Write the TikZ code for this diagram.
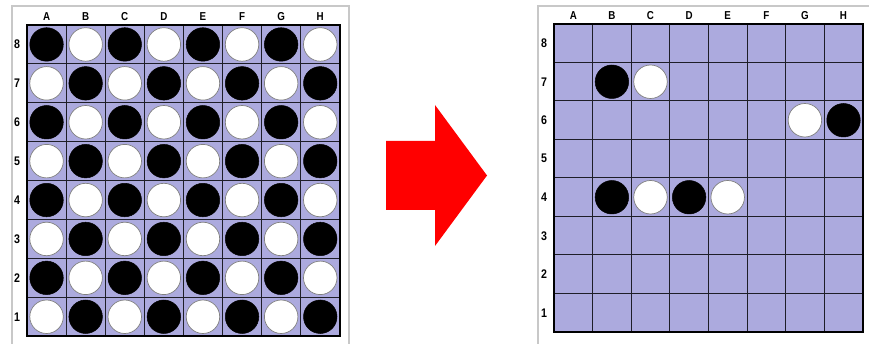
\documentclass[tikz,border=0pt]{standalone}
\usepackage{fontspec}
\setmainfont{Liberation Sans}
\definecolor{boardfill}{RGB}{172,170,222}
\definecolor{framegray}{RGB}{200,200,200}
\definecolor{gridline}{RGB}{30,30,40}
\tikzset{
  frameline/.style={draw=framegray,line width=1.2pt},
  boardbg/.style={fill=boardfill},
  gridlines/.style={draw=gridline,line width=1pt},
  boardedge/.style={draw=black,line width=2pt},
  blackdisc/.style={circle,fill=black,draw=black,line width=0.5pt,minimum size=33.5pt,inner sep=0pt},
  whitedisc/.style={circle,fill=white,draw=gray,line width=0.7pt,minimum size=33.5pt,inner sep=0pt},
  collabel/.style={font=\fontsize{11.5}{13}\selectfont\bfseries,inner sep=0pt,yshift=8.5pt,xscale=0.85},
  rowlabel/.style={font=\fontsize{12.5}{14}\selectfont\bfseries,inner sep=0pt,xshift=-10pt,xscale=0.85},
  bigarrow/.style={fill=red,draw=none}
}
\begin{document}
\begin{tikzpicture}[x=1pt,y=-1pt]
\useasboundingbox (0,0) rectangle (869,344);
% outer frames
\draw[frameline] (12,350) -- (12,6) -- (349,6) -- (349,350);
\draw[frameline] (538,350) -- (538,6) -- (875,6);
% left board
\begin{scope}[shift={(27,25)},x=39.1pt,y=-38.9pt]
  \fill[boardbg] (0,0) rectangle (8,8);
  \foreach \i in {1,...,7} {
    \draw[gridlines] (\i,0) -- (\i,8);
    \draw[gridlines] (0,\i) -- (8,\i);
  }
  \draw[boardedge] (0,0) rectangle (8,8);
  \foreach \c [count=\ci] in {A,B,C,D,E,F,G,H} {
    \node[collabel] (Lcol\c) at (\ci-0.5,0) {\c};
  }
  \foreach \r in {1,...,8} {
    \node[rowlabel] (Lrow\r) at (0,8.5-\r) {\r};
  }
  \foreach \c [count=\ci] in {A,B,C,D,E,F,G,H} {
    \foreach \r in {1,...,8} {
      \pgfmathtruncatemacro{\parity}{mod(\ci+\r,2)}
      \ifnum\parity=1
        \node[blackdisc] (L\c\r) at (\ci-0.5,8.5-\r) {};
      \else
        \node[whitedisc] (L\c\r) at (\ci-0.5,8.5-\r) {};
      \fi
    }
  }
\end{scope}
% arrow
\fill[bigarrow] (386,141) -- (435,141) -- (435,105) -- (487,175.5) -- (435,246) -- (435,210) -- (386,210) -- cycle;
% right board
\begin{scope}[shift={(554,24)},x=38.6pt,y=-38.5pt]
  \fill[boardbg] (0,0) rectangle (8,8);
  \foreach \i in {1,...,7} {
    \draw[gridlines] (\i,0) -- (\i,8);
    \draw[gridlines] (0,\i) -- (8,\i);
  }
  \draw[boardedge] (0,0) rectangle (8,8);
  \foreach \c [count=\ci] in {A,B,C,D,E,F,G,H} {
    \node[collabel] (Rcol\c) at (\ci-0.5,0) {\c};
  }
  \foreach \r in {1,...,8} {
    \node[rowlabel] (Rrow\r) at (0,8.5-\r) {\r};
  }
  \node[blackdisc] (RB7) at (1.5,1.5) {};
  \node[whitedisc] (RC7) at (2.5,1.5) {};
  \node[whitedisc] (RG6) at (6.5,2.5) {};
  \node[blackdisc] (RH6) at (7.5,2.5) {};
  \node[blackdisc] (RB4) at (1.5,4.5) {};
  \node[whitedisc] (RC4) at (2.5,4.5) {};
  \node[blackdisc] (RD4) at (3.5,4.5) {};
  \node[whitedisc] (RE4) at (4.5,4.5) {};
\end{scope}
\end{tikzpicture}
\end{document}
